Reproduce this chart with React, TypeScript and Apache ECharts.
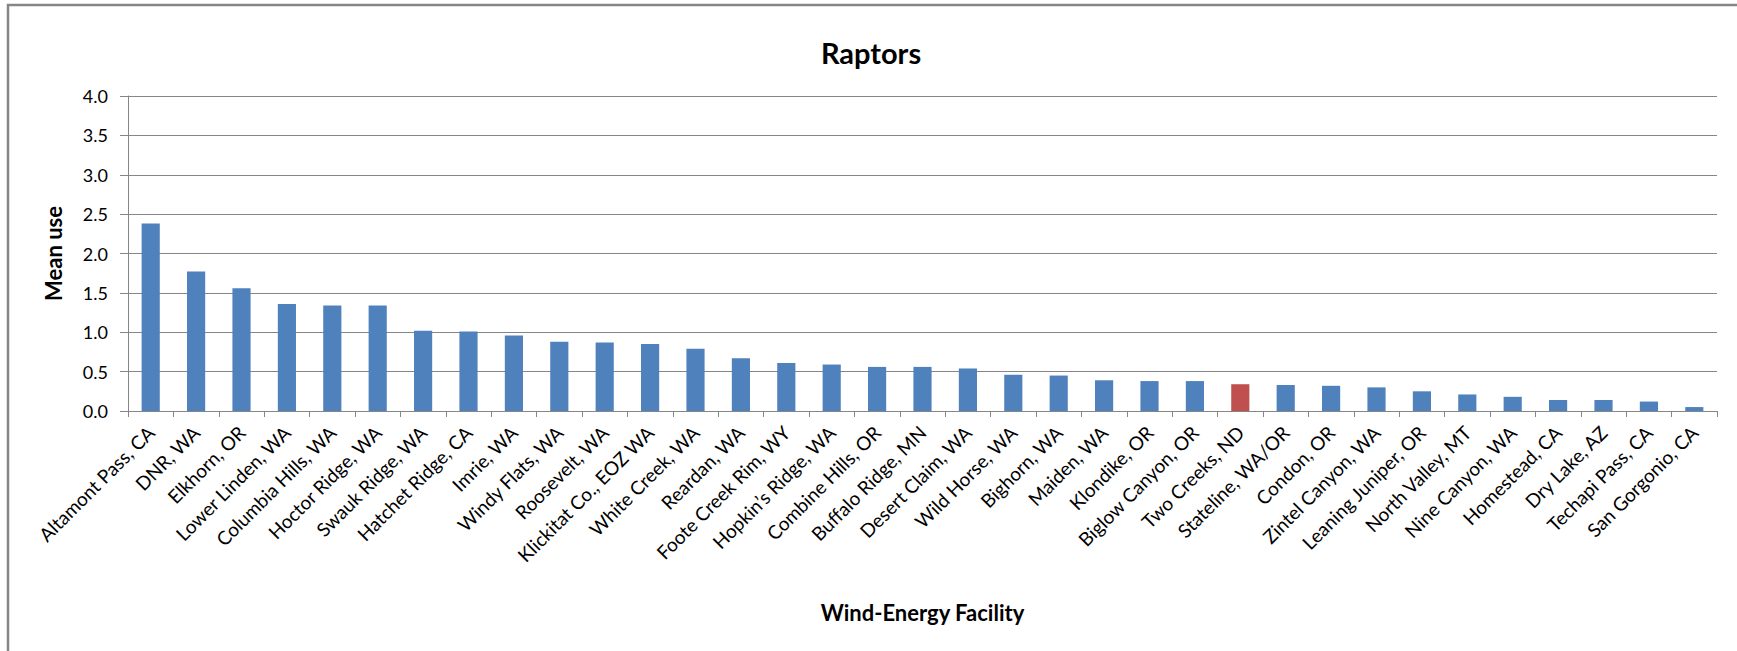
import React, { useEffect, useRef } from "react";
import * as echarts from "echarts";

const categories: string[] = [
  "Altamont Pass, CA", "DNR, WA", "Elkhorn, OR", "Lower Linden, WA", "Columbia Hills, WA",
  "Hoctor Ridge, WA", "Swauk Ridge, WA", "Hatchet Ridge, CA", "Imrie, WA", "Windy Flats, WA",
  "Roosevelt, WA", "Klickitat Co., EOZ WA", "White Creek, WA", "Reardan, WA", "Foote Creek Rim, WY",
  "Hopkin\u2019s Ridge, WA", "Combine Hills, OR", "Buffalo Ridge, MN", "Desert Claim, WA", "Wild Horse, WA",
  "Bighorn, WA", "Maiden, WA", "Klondike, OR", "Biglow Canyon, OR", "Two Creeks, ND",
  "Stateline, WA/OR", "Condon, OR", "Zintel Canyon, WA", "Leaning Juniper, OR", "North Valley, MT",
  "Nine Canyon, WA", "Homestead, CA", "Dry Lake, AZ", "Techapi Pass, CA", "San Gorgonio, CA",
];

const meanUse: number[] = [
  2.38, 1.77, 1.56, 1.36, 1.34,
  1.34, 1.02, 1.01, 0.96, 0.88,
  0.87, 0.85, 0.79, 0.67, 0.61,
  0.59, 0.56, 0.56, 0.54, 0.46,
  0.45, 0.39, 0.38, 0.38, 0.34,
  0.33, 0.32, 0.30, 0.25, 0.21,
  0.18, 0.14, 0.14, 0.12, 0.05,
];

const highlighted: string[] = ["Two Creeks, ND"];

const yTicks = { min: 0, max: 4, interval: 0.5 };

const FONT = "Lato, 'Open Sans', sans-serif";

export default function App() {
  const ref = useRef<HTMLDivElement>(null);

  useEffect(() => {
    if (!ref.current) return;
    const chart = echarts.init(ref.current, null, { renderer: "svg" });
    const data = meanUse.map((v, i) => ({
      value: v,
      itemStyle: {
        color: highlighted.includes(categories[i]) ? "#C0504D" : "#4F81BD",
      },
    }));
    chart.setOption({
      animation: false,
      backgroundColor: "#ffffff",
      textStyle: { fontFamily: FONT },
      title: {
        text: "Raptors",
        left: 866,
        top: 33,
        textAlign: "center",
        textStyle: { fontFamily: FONT, fontSize: 29, fontWeight: "bold", color: "#000" },
      },
      grid: { left: 128, right: 20, top: 96, bottom: 240, containLabel: false },
      xAxis: {
        type: "category",
        data: categories,
        name: "Wind-Energy Facility",
        nameLocation: "middle",
        nameGap: 190,
        nameTextStyle: { fontFamily: FONT, fontSize: 22, fontWeight: "bold", color: "#000" },
        axisLine: { lineStyle: { color: "#868686", width: 1 } },
        axisTick: { show: true, length: 6, lineStyle: { color: "#868686" } },
        axisLabel: {
          interval: 0,
          rotate: 45,
          margin: 18,
          fontFamily: FONT,
          fontSize: 19,
          color: "#000",
        },
        splitLine: { show: false },
      },
      yAxis: {
        type: "value",
        min: yTicks.min,
        max: yTicks.max,
        interval: yTicks.interval,
        name: "Mean use",
        nameLocation: "middle",
        nameGap: 64,
        nameRotate: 90,
        nameTextStyle: { fontFamily: FONT, fontSize: 22, fontWeight: "bold", color: "#000" },
        axisLine: { show: true, lineStyle: { color: "#868686", width: 1 } },
        axisTick: { show: true, length: 8, lineStyle: { color: "#868686" } },
        axisLabel: {
          margin: 20,
          fontFamily: FONT,
          fontSize: 18,
          color: "#000",
          formatter: (v: number) => v.toFixed(1),
        },
        splitLine: { show: true, lineStyle: { color: "#868686", width: 1 } },
      },
      series: [
        {
          type: "bar",
          data,
          barWidth: "40%",
        },
      ],
      graphic: [
        {
          type: "rect",
          shape: { x: 8, y: 5, width: 1800, height: 800 },
          style: { fill: "none", stroke: "#868686", lineWidth: 2.5 },
          silent: true,
          z: 100,
        },
      ],
    });
    return () => chart.dispose();
  }, []);

  return (
    <div
      ref={ref}
      style={{ position: "absolute", left: 0, top: 0, width: 1737, height: 651 }}
    />
  );
}
